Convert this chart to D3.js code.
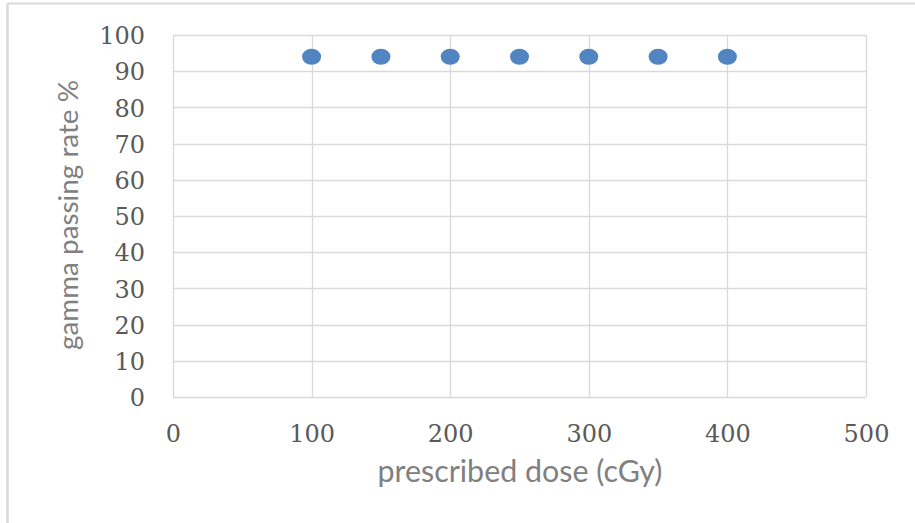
<!DOCTYPE html>
<html>
<head>
<meta charset="utf-8">
<script src="https://cdn.jsdelivr.net/npm/d3@7"></script>
<style>
  html, body { margin: 0; padding: 0; background: #fff; }
  svg { display: block; }
</style>
</head>
<body>
<svg id="chart" width="915" height="523"></svg>
<script>
// ---- data ----
const doses = [100, 150, 200, 250, 300, 350, 400];
const passingRates = [94, 94, 94, 94, 94, 94, 94];
const xTicks = [0, 100, 200, 300, 400, 500];
const yTicks = [0, 10, 20, 30, 40, 50, 60, 70, 80, 90, 100];
const xTitle = "prescribed dose (cGy)";
const yTitle = "gamma passing rate %";

const svg = d3.select("#chart");
const W = 915, H = 523;
const plot = { left: 173, right: 866, top: 35, bottom: 397 };

// outer chart border (only top/left visible in the reference crop)
svg.append("line").attr("x1", 7.5).attr("x2", W).attr("y1", 3.5).attr("y2", 3.5)
  .attr("stroke", "#d9d9d9").attr("stroke-width", 2);
svg.append("line").attr("x1", 7.5).attr("x2", 7.5).attr("y1", 3.5).attr("y2", H)
  .attr("stroke", "#d9d9d9").attr("stroke-width", 2.5);

const x = d3.scaleLinear().domain([0, 500]).range([plot.left, plot.right]);
const y = d3.scaleLinear().domain([0, 100]).range([plot.bottom, plot.top]);

// gridlines
const grid = svg.append("g");
grid.selectAll(".hg").data(yTicks).join("line")
  .attr("x1", plot.left).attr("x2", plot.right)
  .attr("y1", d => Math.round(y(d)) + 0.5).attr("y2", d => Math.round(y(d)) + 0.5)
  .attr("stroke", "#d9d9d9").attr("stroke-width", 1.3);
grid.selectAll(".vg").data(xTicks).join("line")
  .attr("y1", plot.top).attr("y2", plot.bottom)
  .attr("x1", d => Math.round(x(d)) + 0.5).attr("x2", d => Math.round(x(d)) + 0.5)
  .attr("stroke", "#d9d9d9").attr("stroke-width", 1.3);

// axes via d3 axis generators (no tick marks, no domain)
const tickFont = "'DejaVu Serif', serif";
const tickSize = 24;
const xAxis = svg.append("g").attr("transform", `translate(0,${plot.bottom})`)
  .call(d3.axisBottom(x).tickValues(xTicks).tickSize(0).tickPadding(0).tickFormat(d3.format("d")));
xAxis.select(".domain").remove();
xAxis.selectAll("text").attr("font-family", tickFont).attr("font-size", tickSize)
  .attr("fill", "#595959").attr("dy", null).attr("y", 45);

const yAxis = svg.append("g").attr("transform", `translate(${plot.left},0)`)
  .call(d3.axisLeft(y).tickValues(yTicks).tickSize(0).tickPadding(0).tickFormat(d3.format("d")));
yAxis.select(".domain").remove();
yAxis.selectAll("text").attr("font-family", tickFont).attr("font-size", tickSize)
  .attr("fill", "#595959").attr("dy", "0.36em").attr("x", -28);

// points
svg.append("g").selectAll("ellipse")
  .data(doses.map((d, i) => ({ d, v: passingRates[i] })))
  .join("ellipse")
  .attr("cx", p => x(p.d)).attr("cy", p => y(p.v))
  .attr("rx", 9.5).attr("ry", 8)
  .attr("fill", "#5284c2");

// axis titles
const titleFont = "Lato, 'Open Sans', sans-serif";
const xt = svg.append("text").text(xTitle)
  .attr("x", 520).attr("y", 482).attr("text-anchor", "middle")
  .attr("font-family", titleFont).attr("font-size", 22).attr("fill", "#808080");
const yt = svg.append("text").text(yTitle)
  .attr("transform", "translate(78,215) rotate(-90)").attr("text-anchor", "middle")
  .attr("font-family", titleFont).attr("font-size", 22).attr("fill", "#808080");

// fit title widths to the reference extents
function fit(sel, target) {
  const w = sel.node().getComputedTextLength();
  const fs = parseFloat(sel.attr("font-size"));
  sel.attr("font-size", fs * target / w);
}
fit(xt, 285);
fit(yt, 270);
</script>
</body>
</html>
